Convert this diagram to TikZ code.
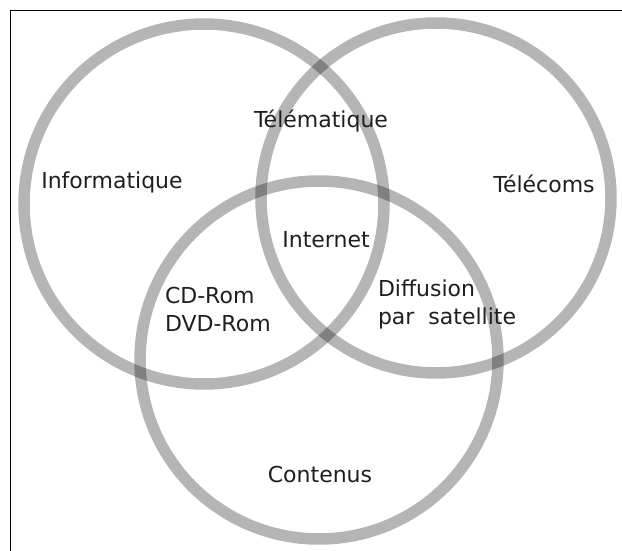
\documentclass[tikz,border=0pt]{standalone}
\usepackage{fontspec}
\setmainfont{DejaVu Sans}
\begin{document}
\begin{tikzpicture}[x=1pt,y=-1pt,
  ring/.style={draw=black,draw opacity=0.29,line width=11.5pt},
  lbl/.style={inner sep=0pt,outer sep=0pt,text=black!88,font=\fontsize{22}{28}\selectfont},
  frameline/.style={draw=black,line width=1.2pt}]
\useasboundingbox (0,0) rectangle (622,551);
% frame (top and left edges)
\coordinate (fa) at (10.5,551);
\coordinate (fb) at (10.5,10.5);
\coordinate (fc) at (622,10.5);
\draw[frameline] (fa) -- (fb) -- (fc);
% circles
\draw[ring] (204,204) circle[radius=180];
\draw[ring] (436,198) circle[radius=175];
\draw[ring] (319,360) circle[radius=179];
% labels
\node[lbl,anchor=base] (tele) at (321,128) {Télématique};
\node[lbl,anchor=base] (info) at (112,189) {Informatique};
\node[lbl,anchor=base] (telecom) at (544,193) {Télécoms};
\node[lbl,anchor=base] (inet) at (326,247) {Internet};
\node[lbl,anchor=base west] (cd) at (165,303) {CD-Rom};
\node[lbl,anchor=base west] (dvd) at (165,331) {DVD-Rom};
\node[lbl,anchor=base west] (diff) at (378,296) {Diffusion};
\node[lbl,anchor=base west] (sat) at (378,324) {par\ \ satellite};
\node[lbl,anchor=base] (cont) at (320,482) {Contenus};
\end{tikzpicture}
\end{document}
